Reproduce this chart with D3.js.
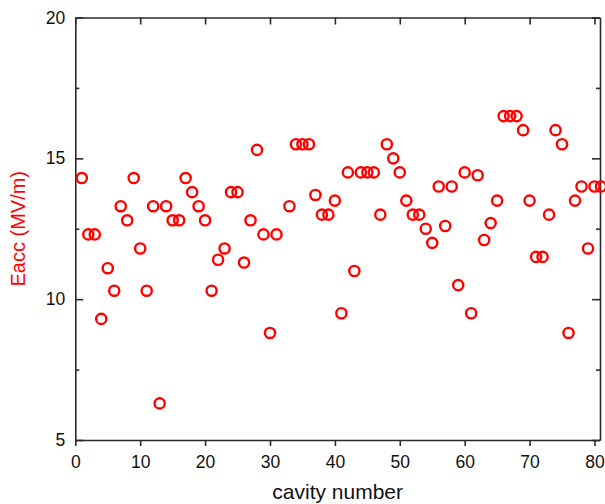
<!DOCTYPE html>
<html>
<head>
<meta charset="utf-8">
<script src="https://cdn.jsdelivr.net/npm/d3@7.9.0/dist/d3.min.js"></script>
<style>
  body { margin: 0; background: #fff; }
  svg { display: block; font-family: "Liberation Sans", Arial, sans-serif; }
  .axis path, .axis line { stroke: #2a2a2a; stroke-width: 1.6; }
  .axis text { fill: #111; font-size: 17.5px; }
</style>
</head>
<body>
<svg id="chart" width="605" height="504"></svg>
<script>
// cavity numbers (no cavity 32 in the plot)
const cavities = [
  1, 2, 3, 4, 5, 6, 7, 8, 9, 10,
  11, 12, 13, 14, 15, 16, 17, 18, 19, 20,
  21, 22, 23, 24, 25, 26, 27, 28, 29, 30,
  31, 33, 34, 35, 36, 37, 38, 39, 40,
  41, 42, 43, 44, 45, 46, 47, 48, 49, 50,
  51, 52, 53, 54, 55, 56, 57, 58, 59, 60,
  61, 62, 63, 64, 65, 66, 67, 68, 69, 70,
  71, 72, 73, 74, 75, 76, 77, 78, 79, 80, 81
];
// Eacc in MV/m
const eacc = [
  14.3, 12.3, 12.3, 9.3, 11.1, 10.3, 13.3, 12.8, 14.3, 11.8,
  10.3, 13.3, 6.3, 13.3, 12.8, 12.8, 14.3, 13.8, 13.3, 12.8,
  10.3, 11.4, 11.8, 13.8, 13.8, 11.3, 12.8, 15.3, 12.3, 8.8,
  12.3, 13.3, 15.5, 15.5, 15.5, 13.7, 13.0, 13.0, 13.5,
  9.5, 14.5, 11.0, 14.5, 14.5, 14.5, 13.0, 15.5, 15.0, 14.5,
  13.5, 13.0, 13.0, 12.5, 12.0, 14.0, 12.6, 14.0, 10.5, 14.5,
  9.5, 14.4, 12.1, 12.7, 13.5, 16.5, 16.5, 16.5, 16.0, 13.5,
  11.5, 11.5, 13.0, 16.0, 15.5, 8.8, 13.5, 14.0, 11.8, 14.0, 14.0
];
const xTicks = [0, 10, 20, 30, 40, 50, 60, 70, 80];
const yTicks = [5, 10, 15, 20];
const yMinor = [7.5, 12.5, 17.5];

const svg = d3.select("#chart");
const mLeft = 75.3, mRight = 600, mTop = 17.5, mBottom = 440;

const x = d3.scaleLinear().domain([0, 80.85]).range([mLeft, mRight]);
const y = d3.scaleLinear().domain([5, 20]).range([mBottom, mTop]);

// bottom axis, ticks outward
svg.append("g").attr("class", "axis")
  .attr("transform", `translate(0,${mBottom})`)
  .call(d3.axisBottom(x).tickValues(xTicks).tickSize(6).tickPadding(10).tickSizeOuter(0));

// top axis, ticks inward, no labels
svg.append("g").attr("class", "axis")
  .attr("transform", `translate(0,${mTop})`)
  .call(d3.axisTop(x).tickValues(xTicks).tickSize(-7).tickFormat("").tickSizeOuter(0));

// left axis, ticks inward
svg.append("g").attr("class", "axis")
  .attr("transform", `translate(${mLeft},0)`)
  .call(d3.axisLeft(y).tickValues(yTicks).tickSize(-8).tickPadding(10).tickSizeOuter(0));
svg.append("g").attr("class", "axis")
  .attr("transform", `translate(${mLeft},0)`)
  .call(d3.axisLeft(y).tickValues(yMinor).tickSize(-4).tickFormat("").tickSizeOuter(0))
  .select(".domain").remove();

// right axis, ticks inward
svg.append("g").attr("class", "axis")
  .attr("transform", `translate(${mRight},0)`)
  .call(d3.axisRight(y).tickValues(yTicks).tickSize(-8).tickFormat("").tickSizeOuter(0));
svg.append("g").attr("class", "axis")
  .attr("transform", `translate(${mRight},0)`)
  .call(d3.axisRight(y).tickValues(yMinor).tickSize(-4).tickFormat("").tickSizeOuter(0))
  .select(".domain").remove();

// points
svg.append("g")
  .selectAll("circle")
  .data(cavities.map((c, i) => ({ c: c, v: eacc[i] })))
  .join("circle")
  .attr("cx", d => x(d.c))
  .attr("cy", d => y(d.v))
  .attr("r", 5.1)
  .attr("fill", "none")
  .attr("stroke", "#ff0000")
  .attr("stroke-width", 2.4);

// axis titles
svg.append("text")
  .attr("x", (mLeft + mRight) / 2)
  .attr("y", 499)
  .attr("text-anchor", "middle")
  .style("font-size", "21px")
  .attr("fill", "#111")
  .text("cavity number");

svg.append("text")
  .attr("transform", `translate(25,${(mTop + mBottom) / 2}) rotate(-90)`)
  .attr("text-anchor", "middle")
  .style("font-size", "20px")
  .attr("fill", "#ff0000")
  .text("Eacc (MV/m)");
</script>
</body>
</html>
